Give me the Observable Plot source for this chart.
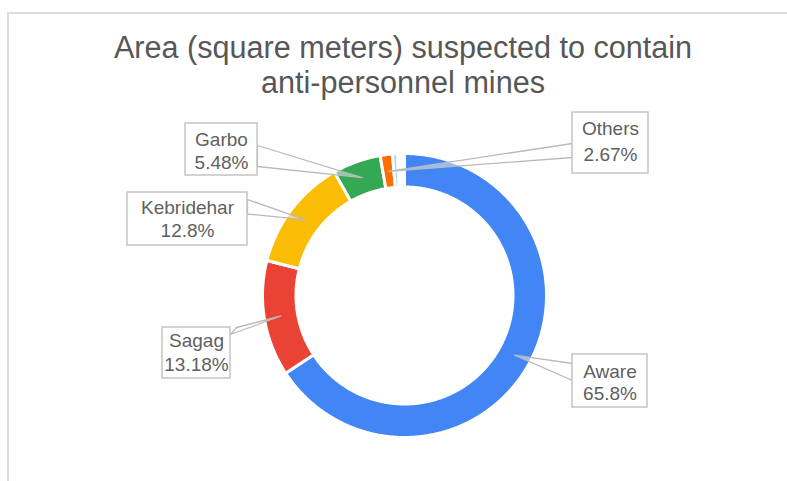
<!DOCTYPE html>
<html><head><meta charset="utf-8">
<script src="https://cdn.jsdelivr.net/npm/d3@7"></script>
<script src="https://cdn.jsdelivr.net/npm/@observablehq/plot@0.6"></script>
<style>
html,body{margin:0;padding:0;background:#fff;}
#wrap{position:relative;width:787px;height:481px;overflow:hidden;font-family:"Liberation Sans",Arial,sans-serif;}
#frame{position:absolute;left:7px;top:12px;width:820px;height:520px;border-left:2px solid #dcdcdc;border-top:2px solid #dcdcdc;}
#title{position:absolute;left:0;width:806px;top:30px;text-align:center;font-size:30.6px;line-height:35px;color:#575757;}
#chart{position:absolute;left:0;top:0;}
</style></head><body>
<div id="wrap"><div id="frame"></div><div id="chart"></div><div id="title">Area (square meters) suspected to contain<br>anti-personnel mines</div></div>
<script>
// ---- data ----
const categories = ["Aware", "Sagag", "Kebridehar", "Garbo", "Others", "small", "rest"];
const shares = [65.8, 13.18, 12.8, 5.48, 1.4, 0.55, 0.8];   // drawn slice sizes (%)
const colors = ["#4285F4", "#EA4335", "#FBBC04", "#34A853", "#FF6D01", "#A9D2E8", "#FFFFFF"];
const labelNames = ["Aware", "Sagag", "Kebridehar", "Garbo", "Others"];
const labelPercents = ["65.8%", "13.18%", "12.8%", "5.48%", "2.67%"];

// ---- layout (pixels) ----
const cx = 404, cy = 295, R = 142, rIn = 108.5 / R;
const boxes = [ // x1, x2, y1, y2, baseline1, baseline2, wedge base points
  {x1: 572, x2: 647, y1: 354, y2: 407, b1: 378, b2: 400, base: [[572, 363], [572, 380]]},
  {x1: 162, x2: 230, y1: 327, y2: 378, b1: 347, b2: 371, base: [[236, 327], [230, 334]]},
  {x1: 127, x2: 247, y1: 192, y2: 245, b1: 214, b2: 237, base: [[247, 199], [247, 213.5]]},
  {x1: 185, x2: 257, y1: 123, y2: 175, b1: 146.5, b2: 169.5, base: [[257, 145], [257, 166]]},
  {x1: 572, x2: 648, y1: 112, y2: 173, b1: 135.5, b2: 161, base: [[572, 143], [572, 157]]}
];
const ux = px => (px - cx) / R;
const uy = py => (cy - py) / R;

const arcs = d3.pie().sort(null).value(d => d).startAngle(0).endAngle(2 * Math.PI)(shares);

const slicePts = [];
arcs.forEach((a, i) => {
  const n = Math.max(2, Math.ceil((a.endAngle - a.startAngle) / (Math.PI / 360)));
  for (let k = 0; k <= n; k++) {
    const t = a.startAngle + (a.endAngle - a.startAngle) * k / n;
    slicePts.push({key: i, color: colors[i], x: Math.sin(t), y: Math.cos(t)});
  }
  for (let k = n; k >= 0; k--) {
    const t = a.startAngle + (a.endAngle - a.startAngle) * k / n;
    slicePts.push({key: i, color: colors[i], x: rIn * Math.sin(t), y: rIn * Math.cos(t)});
  }
});

const rMid = (1 + rIn) / 2;
const wedgePts = [];
const labels = labelNames.map((name, i) => {
  const a = arcs[i];
  const am = (a.startAngle + a.endAngle) / 2;
  const b = boxes[i];
  wedgePts.push({key: i, x: rMid * Math.sin(am), y: rMid * Math.cos(am)});
  wedgePts.push({key: i, x: ux(b.base[0][0]), y: uy(b.base[0][1])});
  wedgePts.push({key: i, x: ux(b.base[1][0]), y: uy(b.base[1][1])});
  return {
    name, pct: labelPercents[i],
    x1: ux(b.x1), x2: ux(b.x2), y1: uy(b.y1), y2: uy(b.y2),
    tx: ux((b.x1 + b.x2) / 2), ty1: uy(b.b1 - 7), ty2: uy(b.b2 - 7)
  };
});

const chart = Plot.plot({
  width: 787, height: 481, margin: 0,
  x: {domain: [ux(0), ux(787)], axis: null},
  y: {domain: [uy(481), uy(0)], axis: null},
  color: {type: "identity"},
  style: {fontFamily: "'Liberation Sans', Arial, sans-serif", background: "transparent"},
  marks: [
    Plot.line(slicePts, {x: "x", y: "y", z: "key", fill: "color", stroke: "white", strokeWidth: 3, curve: "linear-closed"}),
    Plot.line(wedgePts, {x: "x", y: "y", z: "key", fill: "white", fillOpacity: 0.45, stroke: "#b9b9b9", strokeWidth: 1.3, curve: "linear-closed"}),
    Plot.rect(labels, {x1: "x1", x2: "x2", y1: "y1", y2: "y2", fill: "white", stroke: "#c4c4c4", strokeWidth: 1.5}),
    Plot.text(labels, {x: "tx", y: "ty1", text: "name", fontSize: 19, fill: "#5f5f5f", textAnchor: "middle", lineAnchor: "middle"}),
    Plot.text(labels, {x: "tx", y: "ty2", text: "pct", fontSize: 19, fill: "#5f5f5f", textAnchor: "middle", lineAnchor: "middle"})
  ]
});
document.getElementById("chart").appendChild(chart);
</script>
</body></html>
